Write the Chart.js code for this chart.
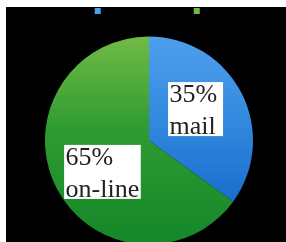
<!DOCTYPE html>
<html>
<head>
<script src="https://cdn.jsdelivr.net/npm/chart.js"></script>
<style>
  body { margin: 0; background: #fff; }
  #wrap { position: absolute; left: 6px; top: 7px; width: 280px; height: 235px; background: #000; overflow: hidden; }
  #wrap canvas { position: absolute; left: 0; top: -29px; }
</style>
</head>
<body>
<div id="wrap"><canvas id="myChart" width="280" height="268"></canvas></div>
<script>
const categories = ['mail', 'on-line'];
const shares = [35, 65];
const topColors = ['#4ea0ec', '#70bb44'];
const bottomColors = ['#0c5fc4', '#15872a'];

// vertical gradient over the pie, per slice
function sliceColor(ctx) {
  const i = ctx.dataIndex || 0;
  const area = ctx.chart.chartArea;
  if (!area) return bottomColors[i];
  const cy = (area.top + area.bottom) / 2;
  const g = ctx.chart.ctx.createLinearGradient(0, cy - 104, 0, cy + 104);
  g.addColorStop(0, topColors[i]);
  g.addColorStop(0.45, i ? '#2e9b31' : '#2f86dc');
  g.addColorStop(1, bottomColors[i]);
  return g;
}

// white boxes with serif text on each slice
const boxLabels = {
  id: 'boxLabels',
  afterDatasetsDraw(chart) {
    const ctx = chart.ctx;
    const meta = chart.getDatasetMeta(0);
    ctx.save();
    ctx.font = '26px "Liberation Serif"';
    meta.data.forEach((arc, i) => {
      const p = arc.getProps(['x', 'y', 'startAngle', 'endAngle', 'outerRadius'], true);
      const mid = (p.startAngle + p.endAngle) / 2 - 7 * Math.PI / 180;
      const d = p.outerRadius * 0.54;
      const cx = p.x + Math.cos(mid) * d;
      const cy = p.y + Math.sin(mid) * d;
      const lines = [shares[i] + '%', categories[i]];
      const w = Math.max(55, Math.max(...lines.map(t => ctx.measureText(t).width)) + 3);
      const h = 54;
      const left = cx - w / 2, top = cy - h / 2;
      ctx.fillStyle = '#fff';
      ctx.fillRect(left, top, w, h);
      ctx.fillStyle = '#222';
      ctx.textBaseline = 'alphabetic';
      ctx.fillText(lines[0], left + 1.5, top + 20);
      ctx.fillText(lines[1], left + 1.5, top + 52);
    });
    ctx.restore();
  }
};

// nudge the legend row to the right, where the reference has it
const legendShift = {
  id: 'legendShift',
  afterLayout(chart) {
    chart.legend.left += 53;
    chart.legend.right += 53;
  }
};

new Chart(document.getElementById('myChart'), {
  type: 'pie',
  data: {
    labels: categories,
    datasets: [{
      data: shares,
      backgroundColor: sliceColor,
      borderWidth: 0,
      radius: 104
    }]
  },
  options: {
    responsive: false,
    animation: false,
    layout: { padding: { left: 6 } },
    plugins: {
      legend: {
        position: 'top',
        labels: {
          boxWidth: 6,
          boxHeight: 6,
          padding: 19,
          color: '#000',
          font: { size: 28, family: 'DejaVu Sans' }
        }
      },
      tooltip: { enabled: false }
    }
  },
  plugins: [boxLabels, legendShift]
});
</script>
</body>
</html>
